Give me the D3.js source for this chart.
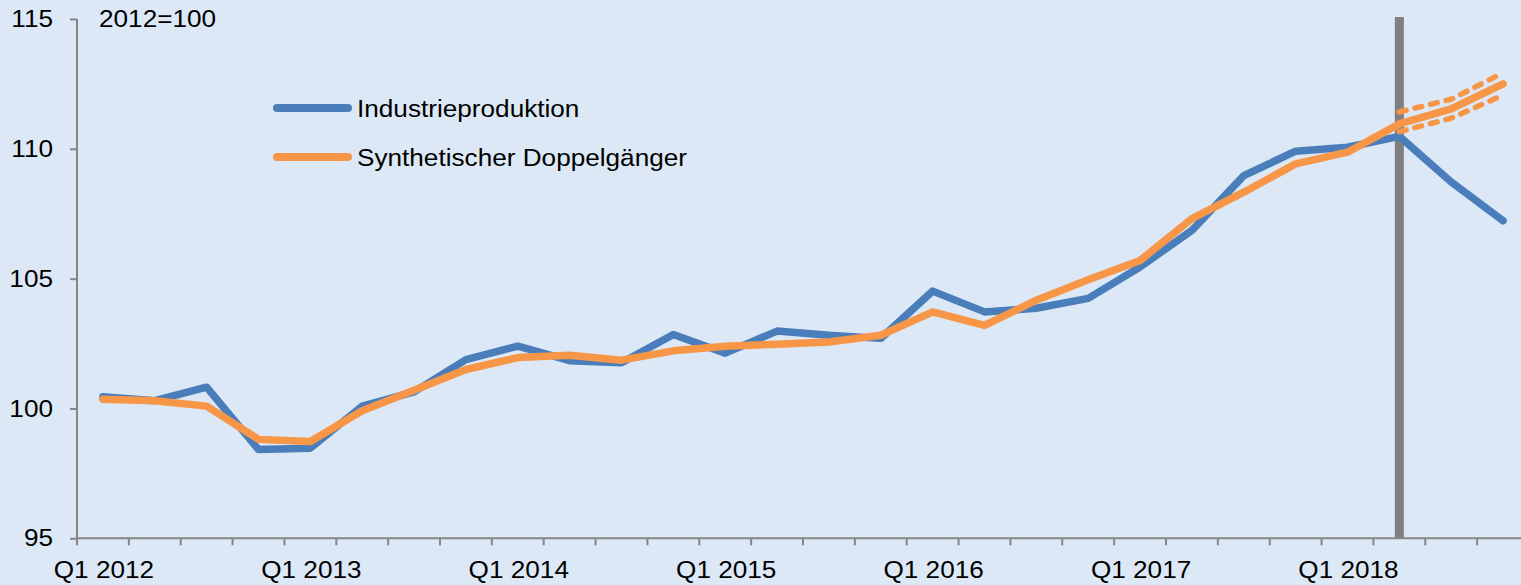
<!DOCTYPE html>
<html>
<head>
<meta charset="utf-8">
<script src="https://cdn.jsdelivr.net/npm/d3@7"></script>
<style>
  body { margin: 0; background: #dce8f6; }
  svg { display: block; }
  text { font-family: "Liberation Sans", Arial, sans-serif; fill: #000; }
</style>
</head>
<body>
<svg id="chart" width="1521" height="585"></svg>
<script>
// quarters on the x axis
const quarters = [
  "Q1 2012", "Q2 2012", "Q3 2012", "Q4 2012",
  "Q1 2013", "Q2 2013", "Q3 2013", "Q4 2013",
  "Q1 2014", "Q2 2014", "Q3 2014", "Q4 2014",
  "Q1 2015", "Q2 2015", "Q3 2015", "Q4 2015",
  "Q1 2016", "Q2 2016", "Q3 2016", "Q4 2016",
  "Q1 2017", "Q2 2017", "Q3 2017", "Q4 2017",
  "Q1 2018", "Q2 2018", "Q3 2018", "Q4 2018"
];

// Industrieproduktion, 2012=100
const industrie = [100.45, 100.3, 100.82, 98.42, 98.47, 100.09, 100.64, 101.88,
  102.4, 101.84, 101.76, 102.85, 102.13, 102.98, 102.82, 102.7,
  104.52, 103.72, 103.86, 104.24, 105.45, 106.86, 108.97, 109.91,
  110.06, 110.48, 108.72, 107.23];

// Synthetischer Doppelgaenger
const doppel = [100.36, 100.3, 100.09, 98.81, 98.73, 99.91, 100.7, 101.5,
  101.96, 102.05, 101.86, 102.22, 102.4, 102.47, 102.56, 102.82,
  103.72, 103.2, 104.17, 104.96, 105.7, 107.31, 108.33, 109.42,
  109.87, 110.96, 111.54, 112.5];

// band around the Doppelgaenger after the break
const bandQuarters = ["Q2 2018", "Q3 2018", "Q4 2018"];
const bandUpper = [111.42, 111.91, 112.93];
const bandLower = [110.66, 111.18, 112.07];

const yTicks = [95, 100, 105, 110, 115];
const breakQuarter = "Q2 2018";

const blue = "#4a7ebb";
const orange = "#f79646";
const axisGrey = "#868686";
const sx = 1.09; // text is a bit wide in the original

const svg = d3.select("#chart");

const x = d3.scaleBand().domain(quarters).range([77, 1529]);
const y = d3.scaleLinear().domain([95, 115]).range([538.3, 19]);
const xc = q => x(q) + x.bandwidth() / 2;

// background
svg.append("rect")
  .attr("width", 1521).attr("height", 585)
  .attr("fill", "#dce8f6");

// vertical break bar
svg.append("line")
  .attr("x1", xc(breakQuarter)).attr("x2", xc(breakQuarter))
  .attr("y1", y(115) - 2).attr("y2", y(95))
  .attr("stroke", "#7f7f7f")
  .attr("stroke-width", 9);

// y axis
const yAxis = svg.append("g")
  .attr("transform", "translate(77,0)")
  .call(d3.axisLeft(y).tickValues(yTicks).tickSize(7).tickPadding(0).tickFormat(d3.format("d")));
yAxis.select(".domain").attr("stroke", axisGrey).attr("stroke-width", 2).attr("d", `M0,${y(115)}V${y(95)}`);
yAxis.selectAll(".tick line").attr("stroke", axisGrey).attr("stroke-width", 2);
yAxis.selectAll(".tick text")
  .attr("x", 0)
  .attr("transform", `translate(-24,0) scale(${sx},1)`)
  .style("font-size", "24px");

// x axis line and quarter ticks
const xAxis = svg.append("g")
  .attr("transform", `translate(0,${y(95)})`);
xAxis.append("line")
  .attr("x1", 77).attr("x2", 1529)
  .attr("stroke", axisGrey).attr("stroke-width", 2);
xAxis.selectAll(".qtick")
  .data(quarters)
  .join("line")
  .attr("class", "qtick")
  .attr("x1", d => x(d)).attr("x2", d => x(d))
  .attr("y1", 0).attr("y2", 7)
  .attr("stroke", axisGrey).attr("stroke-width", 2);

// Q1 labels centred on the quarter
const labels = svg.append("g")
  .attr("transform", `translate(0,${y(95)})`)
  .call(d3.axisBottom(x).tickValues(quarters.filter(q => q.startsWith("Q1"))).tickSize(0).tickPadding(0));
labels.select(".domain").remove();
labels.selectAll(".tick text")
  .attr("y", 0).attr("dy", 0)
  .attr("transform", `translate(1,40) scale(${sx},1)`)
  .style("font-size", "24px");

// lines
const line = d3.line()
  .x(d => xc(d.q))
  .y(d => y(d.v));

svg.append("path")
  .datum(quarters.map((q, i) => ({ q: q, v: industrie[i] })))
  .attr("d", line)
  .attr("fill", "none")
  .attr("stroke", blue)
  .attr("stroke-width", 7.5)
  .attr("stroke-linejoin", "round")
  .attr("stroke-linecap", "round");

[bandUpper, bandLower].forEach(vals => {
  svg.append("path")
    .datum(bandQuarters.map((q, i) => ({ q: q, v: vals[i] })))
    .attr("d", line)
    .attr("fill", "none")
    .attr("stroke", orange)
    .attr("stroke-width", 5.5)
    .attr("stroke-dasharray", "7,9")
    .attr("stroke-linecap", "round");
});

svg.append("path")
  .datum(quarters.map((q, i) => ({ q: q, v: doppel[i] })))
  .attr("d", line)
  .attr("fill", "none")
  .attr("stroke", orange)
  .attr("stroke-width", 7.5)
  .attr("stroke-linejoin", "round")
  .attr("stroke-linecap", "round");

// base note
svg.append("text")
  .attr("transform", `translate(99,27) scale(${sx},1)`)
  .style("font-size", "24px")
  .text("2012=100");

// legend
const legend = [
  { name: "Industrieproduktion", color: blue, y: 108 },
  { name: "Synthetischer Doppelgänger", color: orange, y: 157 }
];
const lg = svg.selectAll(".legend")
  .data(legend)
  .join("g")
  .attr("class", "legend");
lg.append("line")
  .attr("x1", 277).attr("x2", 348)
  .attr("y1", d => d.y).attr("y2", d => d.y)
  .attr("stroke", d => d.color)
  .attr("stroke-width", 8)
  .attr("stroke-linecap", "round");
lg.append("text")
  .attr("transform", d => `translate(357,${d.y + 8.5}) scale(${sx},1)`)
  .style("font-size", "24px")
  .text(d => d.name);
</script>
</body>
</html>
